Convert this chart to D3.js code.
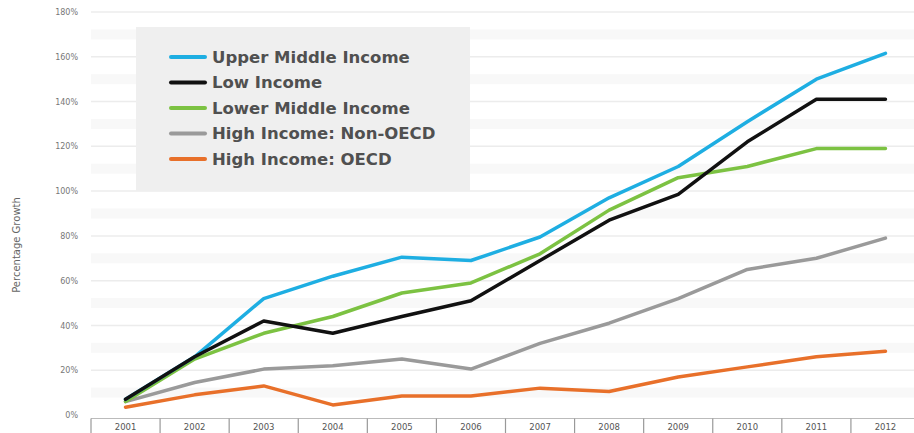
<!DOCTYPE html>
<html>
<head>
<meta charset="utf-8">
<script src="https://cdn.jsdelivr.net/npm/d3@7/dist/d3.min.js"></script>
<style>
  html, body { margin: 0; padding: 0; background: #fff; }
  svg { display: block; font-family: "DejaVu Sans", sans-serif; }
</style>
</head>
<body>
<svg id="chart" width="914" height="433"></svg>
<script>
// Growth by income group, 2001–2012 (percent)
const years = ["2001","2002","2003","2004","2005","2006","2007","2008","2009","2010","2011","2012"];
const upperMiddle = [7, 26, 52, 62, 70.5, 69, 79.5, 97, 111, 131, 150, 161.5];
const lowIncome   = [7, 26, 42, 36.5, 44, 51, 69, 87, 98.5, 122, 141, 141];
const lowerMiddle = [6, 25, 36.5, 44, 54.5, 59, 72, 91.5, 106, 111, 119, 119];
const highNonOECD = [6, 14.5, 20.5, 22, 25, 20.5, 32, 41, 52, 65, 70, 79];
const highOECD    = [3.5, 9, 13, 4.5, 8.5, 8.5, 12, 10.5, 17, 21.5, 26, 28.5];
const yTicks = [0, 20, 40, 60, 80, 100, 120, 140, 160, 180];

const series = [
  { name: "Upper Middle Income",     values: upperMiddle, color: "#1eaee2" },
  { name: "Low Income",              values: lowIncome,   color: "#111111" },
  { name: "Lower Middle Income",     values: lowerMiddle, color: "#7cc242" },
  { name: "High Income: Non-OECD",   values: highNonOECD, color: "#9a9a9a" },
  { name: "High Income: OECD",       values: highOECD,    color: "#e8702a" }
];
// drawing order: lowest lines first so upper lines sit on top
const drawOrder = [4, 3, 2, 0, 1];

const svg = d3.select("#chart");

const x = d3.scaleBand().domain(years).range([91, 920]).padding(0);
const y = d3.scaleLinear().domain([0, 180]).range([415, 12]);

// faint bands and gridlines
const bandVals = d3.range(10, 180, 20);
svg.append("g").selectAll("rect").data(bandVals).join("rect")
  .attr("x", 91).attr("width", 914 - 91)
  .attr("y", d => y(d) - 5).attr("height", 10)
  .attr("fill", "#f8f8f8");

svg.append("g").selectAll("line").data(yTicks.filter(d => d > 0)).join("line")
  .attr("x1", 91).attr("x2", 914)
  .attr("y1", d => y(d)).attr("y2", d => y(d))
  .attr("stroke", "#ececec").attr("stroke-width", 1.5);

// y axis labels
const yAxis = d3.axisLeft(y).tickValues(yTicks).tickFormat(d => d + "%").tickSize(0).tickPadding(0);
const gy = svg.append("g").attr("transform", "translate(78,0)").call(yAxis);
gy.select(".domain").remove();
gy.selectAll("text").attr("font-size", 8).attr("fill", "#777").attr("font-family", "DejaVu Sans, sans-serif");

// y axis title
svg.append("text")
  .attr("transform", "translate(20,245) rotate(-90)")
  .attr("text-anchor", "middle")
  .attr("font-size", 10).attr("fill", "#666")
  .text("Percentage Growth");

// x axis: ruled cells under each year
const xAxis = d3.axisBottom(x).tickSize(0).tickPadding(6);
const gx = svg.append("g").attr("transform", "translate(0,418)").call(xAxis);
gx.select(".domain").remove();
gx.selectAll("text").attr("font-size", 8.5).attr("fill", "#555").attr("font-family", "DejaVu Sans, sans-serif");

svg.append("line")
  .attr("x1", x.range()[0]).attr("x2", 914)
  .attr("y1", 418.5).attr("y2", 418.5)
  .attr("stroke", "#bbb").attr("stroke-width", 1);

svg.append("g").selectAll("line").data(years).join("line")
  .attr("x1", d => x(d)).attr("x2", d => x(d))
  .attr("y1", 418.5).attr("y2", 433)
  .attr("stroke", "#999").attr("stroke-width", 1.2);

// legend panel
const legend = svg.append("g");
legend.append("rect")
  .attr("x", 136).attr("y", 27).attr("width", 334).attr("height", 164)
  .attr("fill", "#efefef");

const legendY = d3.scalePoint().domain(series.map(s => s.name)).range([57, 159]);
const items = legend.selectAll("g.item").data(series).join("g").attr("class", "item")
  .attr("transform", d => `translate(0,${legendY(d.name)})`);
items.append("line")
  .attr("x1", 171).attr("x2", 205).attr("y1", 0).attr("y2", 0)
  .attr("stroke", d => d.color).attr("stroke-width", 4).attr("stroke-linecap", "round");
items.append("text")
  .attr("x", 212).attr("y", 0).attr("dy", "0.36em")
  .attr("font-size", 16.5).attr("font-weight", "bold").attr("fill", "#505050")
  .text(d => d.name);

// series lines
const line = d3.line()
  .x((d, i) => x(years[i]) + x.bandwidth() / 2)
  .y(d => y(d));

svg.append("g").selectAll("path").data(drawOrder.map(i => series[i])).join("path")
  .attr("d", d => line(d.values))
  .attr("fill", "none")
  .attr("stroke", d => d.color)
  .attr("stroke-width", 3.5)
  .attr("stroke-linejoin", "round")
  .attr("stroke-linecap", "round");
</script>
</body>
</html>
